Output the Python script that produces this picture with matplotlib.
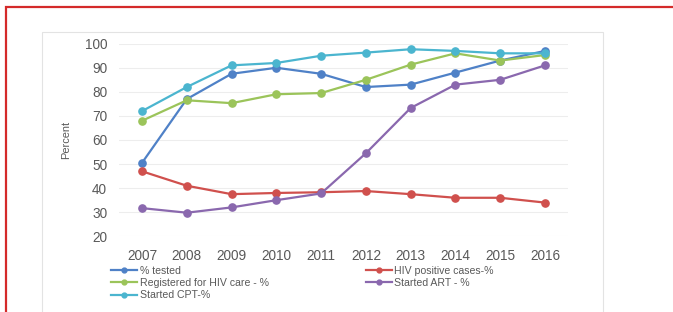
import matplotlib
matplotlib.use("Agg")
import matplotlib.pyplot as plt
from matplotlib.patches import Rectangle

plt.rcParams['font.family'] = ['Liberation Sans', 'DejaVu Sans']

years = [2007, 2008, 2009, 2010, 2011, 2012, 2013, 2014, 2015, 2016]
tested = [50.5, 77, 87.5, 90, 87.5, 82, 83, 88, 93, 97]
hiv_positive = [47, 41, 37.5, 38, 38.3, 38.8, 37.5, 36, 36, 34]
registered = [68, 76.5, 75.3, 79, 79.5, 85, 91.3, 96, 93, 95.3]
started_art = [31.7, 29.8, 32, 35, 37.8, 54.5, 73.3, 83, 85, 91]
started_cpt = [72, 82, 91, 92, 95, 96.3, 97.7, 97, 96, 96]
yticks = [20, 30, 40, 50, 60, 70, 80, 90, 100]

W, H = 673, 312
fig = plt.figure(figsize=(W/100, H/100), dpi=100)
fig.patch.set_facecolor('white')

# red outer border
fig.patches.append(Rectangle((6/W, -0.1), 1.0, (H-7)/H + 0.1, transform=fig.transFigure,
                             fill=False, edgecolor='#D42A2A', linewidth=1.6))
# grey inner frame
fig.patches.append(Rectangle((42/W, -0.1), (603-42)/W, (H-32)/H + 0.1, transform=fig.transFigure,
                             fill=False, edgecolor='#E3E3E3', linewidth=0.8))

ax = fig.add_axes([119/W, (H-236.3)/H, (568-119)/W, (236.3-43.7)/H])
ax.set_xlim(2006.486, 2016.514)
ax.set_ylim(20, 100)
for s in ax.spines.values():
    s.set_visible(False)
ax.set_yticks(yticks)
ax.set_xticks(years)
ax.grid(axis='y', color='#EDEDED', linewidth=0.8)
ax.set_axisbelow(True)
ax.tick_params(length=0, labelsize=9.8, colors='#595959')
ax.tick_params(axis='y', pad=8.5)
ax.tick_params(axis='x', pad=9.5)
fig.text(66/W, 1 - 140/H, 'Percent', rotation=90, fontsize=7.9, color='#595959',
         ha='center', va='center')

series = [
    ('% tested', tested, '#4F81C7'),
    ('Registered for HIV care - %', registered, '#9BC45A'),
    ('Started CPT-%', started_cpt, '#4BB5CF'),
    ('HIV positive cases-%', hiv_positive, '#D0504D'),
    ('Started ART - %', started_art, '#8A68AE'),
]
handles = {}
for name, vals, c in series:
    h, = ax.plot(years, vals, color=c, linewidth=1.6, marker='o', markersize=5.2,
                 clip_on=False, label=name)
    handles[name] = h

leg_kw = dict(frameon=False, fontsize=7.6, handlelength=2.5, handletextpad=0.2,
              labelspacing=0.2, borderpad=0, borderaxespad=0, labelcolor='#595959')
names1 = ['% tested', 'Registered for HIV care - %', 'Started CPT-%']
names2 = ['HIV positive cases-%', 'Started ART - %']
l1 = fig.legend([handles[n] for n in names1], names1,
                loc='upper left', bbox_to_anchor=(111/W, (H-266)/H), **leg_kw)
l2 = fig.legend([handles[n] for n in names2], names2,
                loc='upper left', bbox_to_anchor=(366/W, (H-266)/H), **leg_kw)
for leg in (l1, l2):
    for ln in leg.get_lines():
        ln.set_markersize(3.5)

fig.savefig('out.png', dpi=100)
